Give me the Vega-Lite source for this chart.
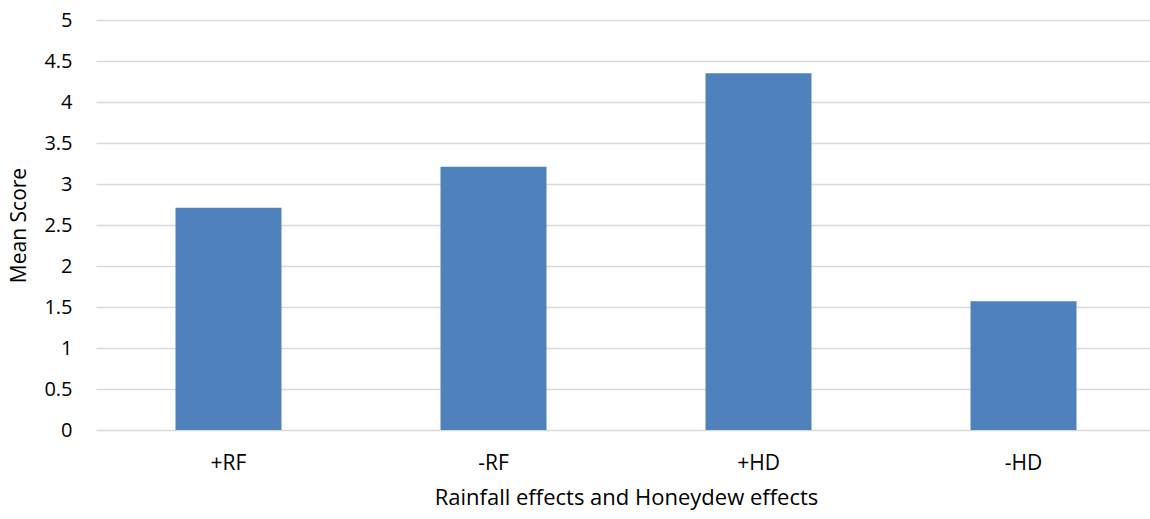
{
  "$schema": "https://vega.github.io/schema/vega-lite/v6.json",
  "autosize": "none",
  "width": 1054,
  "height": 410,
  "padding": {"left": 96, "top": 20, "right": 0, "bottom": 89},
  "background": "white",
  "data": {"values": [
    {"effect": "+RF", "score": 2.71},
    {"effect": "-RF", "score": 3.21},
    {"effect": "+HD", "score": 4.35},
    {"effect": "-HD", "score": 1.57}
  ]},
  "mark": {"type": "bar", "color": "#4F81BD", "width": {"band": 0.4}},
  "encoding": {
    "x": {
      "field": "effect", "type": "nominal", "sort": null,
      "scale": {"paddingInner": 0, "paddingOuter": 0, "range": [0, 1060]},
      "axis": {
        "title": "Rainfall effects and Honeydew effects",
        "labelAngle": 0, "labelFont": "Open Sans", "labelFontSize": 21, "labelColor": "#000000",
        "labelPadding": 22, "ticks": false, "domain": false,
        "titleFont": "Open Sans", "titleFontSize": 22, "titleFontWeight": "normal", "titleColor": "#000000",
        "titlePadding": 14
      }
    },
    "y": {
      "field": "score", "type": "quantitative",
      "scale": {"domain": [0, 5]},
      "axis": {
        "title": "Mean Score", "values": [0, 0.5, 1, 1.5, 2, 2.5, 3, 3.5, 4, 4.5, 5], "format": "~g",
        "labelFont": "Open Sans", "labelFontSize": 20, "labelColor": "#000000", "labelPadding": 24,
        "ticks": false, "domain": false,
        "gridColor": "#d9d9d9", "gridWidth": 1.5,
        "titleFont": "Open Sans", "titleFontSize": 21, "titleFontWeight": "normal", "titleColor": "#000000",
        "titlePadding": 14
      }
    }
  },
  "config": {"view": {"stroke": null}}
}
